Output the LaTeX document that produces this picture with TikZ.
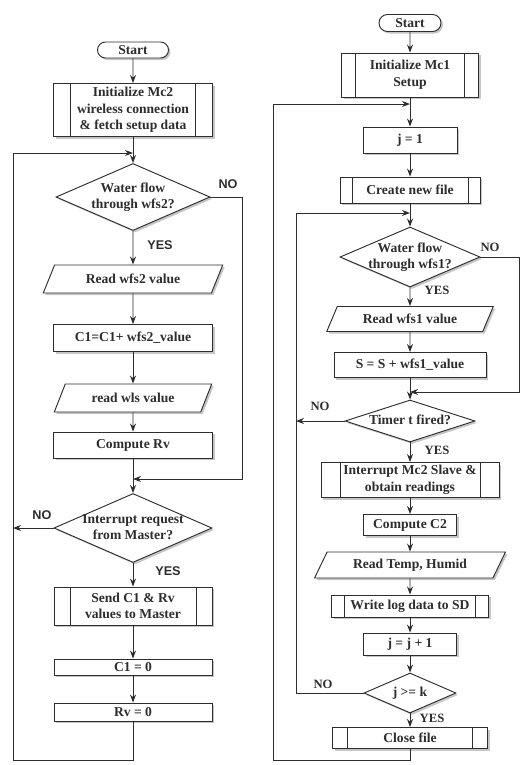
\documentclass[tikz,border=0pt]{standalone}
\usepackage{fontspec}
\setmainfont{Liberation Serif}
\newfontfamily\lsans{Liberation Sans}
\usetikzlibrary{shapes.geometric,shapes.misc,arrows.meta,shadows}
\definecolor{ink}{RGB}{45,45,45}
\newcommand{\dtxt}[1]{\makebox[0pt]{\begin{tabular}{@{}c@{}}#1\end{tabular}}}
\begin{document}
\begin{tikzpicture}[x=0.75pt,y=-0.75pt,
  font=\fontsize{10.2}{12.5}\selectfont\bfseries, text=ink,
  sz/.style 2 args={minimum width={#1*0.75pt}, minimum height={#2*0.75pt}},
  base/.style={draw=ink, line width=0.7pt, fill=white, inner sep=0pt, align=center,
    drop shadow={shadow xshift=1.5pt, shadow yshift=-1.5pt, opacity=0.45}},
  procbox/.style={base, rectangle},
  subproc/.style={base, rectangle, path picture={
    \draw[ink, line width=0.7pt]
      ([xshift=#1*0.75pt]path picture bounding box.north west) -- ([xshift=#1*0.75pt]path picture bounding box.south west)
      ([xshift=-#1*0.75pt]path picture bounding box.north east) -- ([xshift=-#1*0.75pt]path picture bounding box.south east);}},
  term/.style={base, rounded rectangle},
  dec/.style={base, diamond},
  io/.style={base, trapezium, trapezium left angle=55, trapezium right angle=125, trapezium stretches=true},
  ln/.style={draw=ink, line width=0.7pt},
  arr/.style={ln, -{Stealth[length=6pt,width=4.5pt]}},
  labl/.style={font=\lsans\fontsize{9.5}{10}\selectfont\bfseries},
  labr/.style={font=\fontsize{9.5}{10}\selectfont\bfseries}
]
\useasboundingbox (0,0) rectangle (523,765);

% ---------------- left flowchart ----------------
\node[term, sz={71}{16}] (s1) at (133,50) {Start};
\node[subproc=17, sz={159}{53}] (i1) at (133,110) {Initialize Mc2\\wireless connection\\\& fetch setup data};
\node[dec, sz={154}{67}] (d1) at (133,197) {\dtxt{Water flow\\through wfs2?}};
\node[io, sz={180}{28}] (r1) at (133,279) {Read wfs2 value};
\node[procbox, sz={159}{27}] (c1) at (133,338) {C1=C1+ wfs2\_value};
\node[io, sz={158}{28}] (r2) at (133,398) {read wls value};
\node[procbox, sz={159}{26}] (cr) at (133,445) {Compute Rv};
\node[dec, sz={158}{69}] (d2) at (133,528) {\dtxt{Interrupt request\\from Master?}};
\node[subproc=16, sz={158}{38}] (sd) at (133,606) {Send C1 \& Rv\\values to Master};
\node[procbox, sz={158}{16}] (z1) at (133,667) {C1 = 0};
\node[procbox, sz={158}{18}] (z2) at (133,712) {Rv = 0};

\coordinate (m1) at (133,153);
\coordinate (m2) at (133,479);
\coordinate (rr1) at (242,479);
\coordinate (lb) at (13,760);

\draw[arr] (s1) -- (i1);
\draw[arr] (i1) -- (d1);
\draw[arr] (d1) -- (r1);
\draw[arr] (r1) -- (c1);
\draw[arr] (c1) -- (r2);
\draw[arr] (r2) -- (cr);
\draw[arr] (cr) -- (d2);
\draw[arr] (d2) -- (sd);
\draw[arr] (sd) -- (z1);
\draw[arr] (z1) -- (z2);
\draw[arr] (d1.east) -| (rr1) -- (m2);
\draw[arr] (d2.west) -- (d2.west -| lb);
\draw[arr] (z2.south) |- (lb) |- (m1);

\node[labl] (l1) at (228,184) {NO};
\node[labl] (l2) at (160,245) {YES};
\node[labl] (l3) at (42,515) {NO};
\node[labl] (l4) at (168,571) {YES};

% ---------------- right flowchart ----------------
\node[term, sz={62}{17}] (s2) at (410,23) {Start};
\node[subproc=14, sz={137}{44}] (i2) at (410,75) {Initialize Mc1\\Setup};
\node[procbox, sz={94}{26}] (j1) at (410,140) {j = 1};
\node[subproc=12, sz={140}{26}] (cf) at (410,190) {Create new file};
\node[dec, sz={140}{60}] (d3) at (410,257) {\dtxt{Water flow\\through wfs1?}};
\node[io, sz={167}{25}] (r3) at (410,319) {Read wfs1 value};
\node[procbox, sz={152}{25}] (ss) at (410,365) {S = S + wfs1\_value};
\node[dec, sz={130}{42}] (d4) at (410,421) {\dtxt{Timer t fired?}};
\node[subproc=19, sz={178}{35}] (im) at (410,480) {Interrupt Mc2 Slave \&\\obtain readings};
\node[procbox, sz={93}{21}] (c2) at (410,525) {Compute C2};
\node[io, sz={192}{26}] (rt) at (410,565) {Read Temp, Humid};
\node[subproc=13, sz={157}{22}] (wl) at (410,606) {Write log data to SD};
\node[procbox, sz={93}{22}] (jj) at (410,644) {j = j + 1};
\node[dec, sz={92}{40}] (d5) at (410,693) {\dtxt{j >= k}};
\node[subproc=15, sz={155}{21}] (cl) at (410,738) {Close file};

\coordinate (m3) at (410,104);
\coordinate (m4) at (410,213);
\coordinate (m5) at (410,392);
\coordinate (rr3) at (519,392);
\coordinate (il) at (296,213);
\coordinate (ob) at (273,760);

\draw[arr] (s2) -- (i2);
\draw[arr] (i2) -- (j1);
\draw[arr] (j1) -- (cf);
\draw[arr] (cf) -- (d3);
\draw[arr] (d3) -- (r3);
\draw[arr] (r3) -- (ss);
\draw[arr] (ss) -- (d4);
\draw[arr] (d4) -- (im);
\draw[arr] (im) -- (c2);
\draw[arr] (c2) -- (rt);
\draw[arr] (rt) -- (wl);
\draw[arr] (wl) -- (jj);
\draw[arr] (jj) -- (d5);
\draw[arr] (d5) -- (cl);
\draw[arr] (d3.east) -| (rr3) -- (m5);
\draw[arr] (d4.west) -- (d4.west -| il);
\draw[arr] (d5.west) -| (il) -- (m4);
\draw[arr] (cl.south) |- (ob) |- (m3);

\node[labr] (l5) at (490,247) {NO};
\node[labr] (l6) at (437,290) {YES};
\node[labr] (l7) at (320,406) {NO};
\node[labr] (l8) at (437,450) {YES};
\node[labr] (l9) at (323,684) {NO};
\node[labr] (l10) at (432,718) {YES};
\end{tikzpicture}
\end{document}
